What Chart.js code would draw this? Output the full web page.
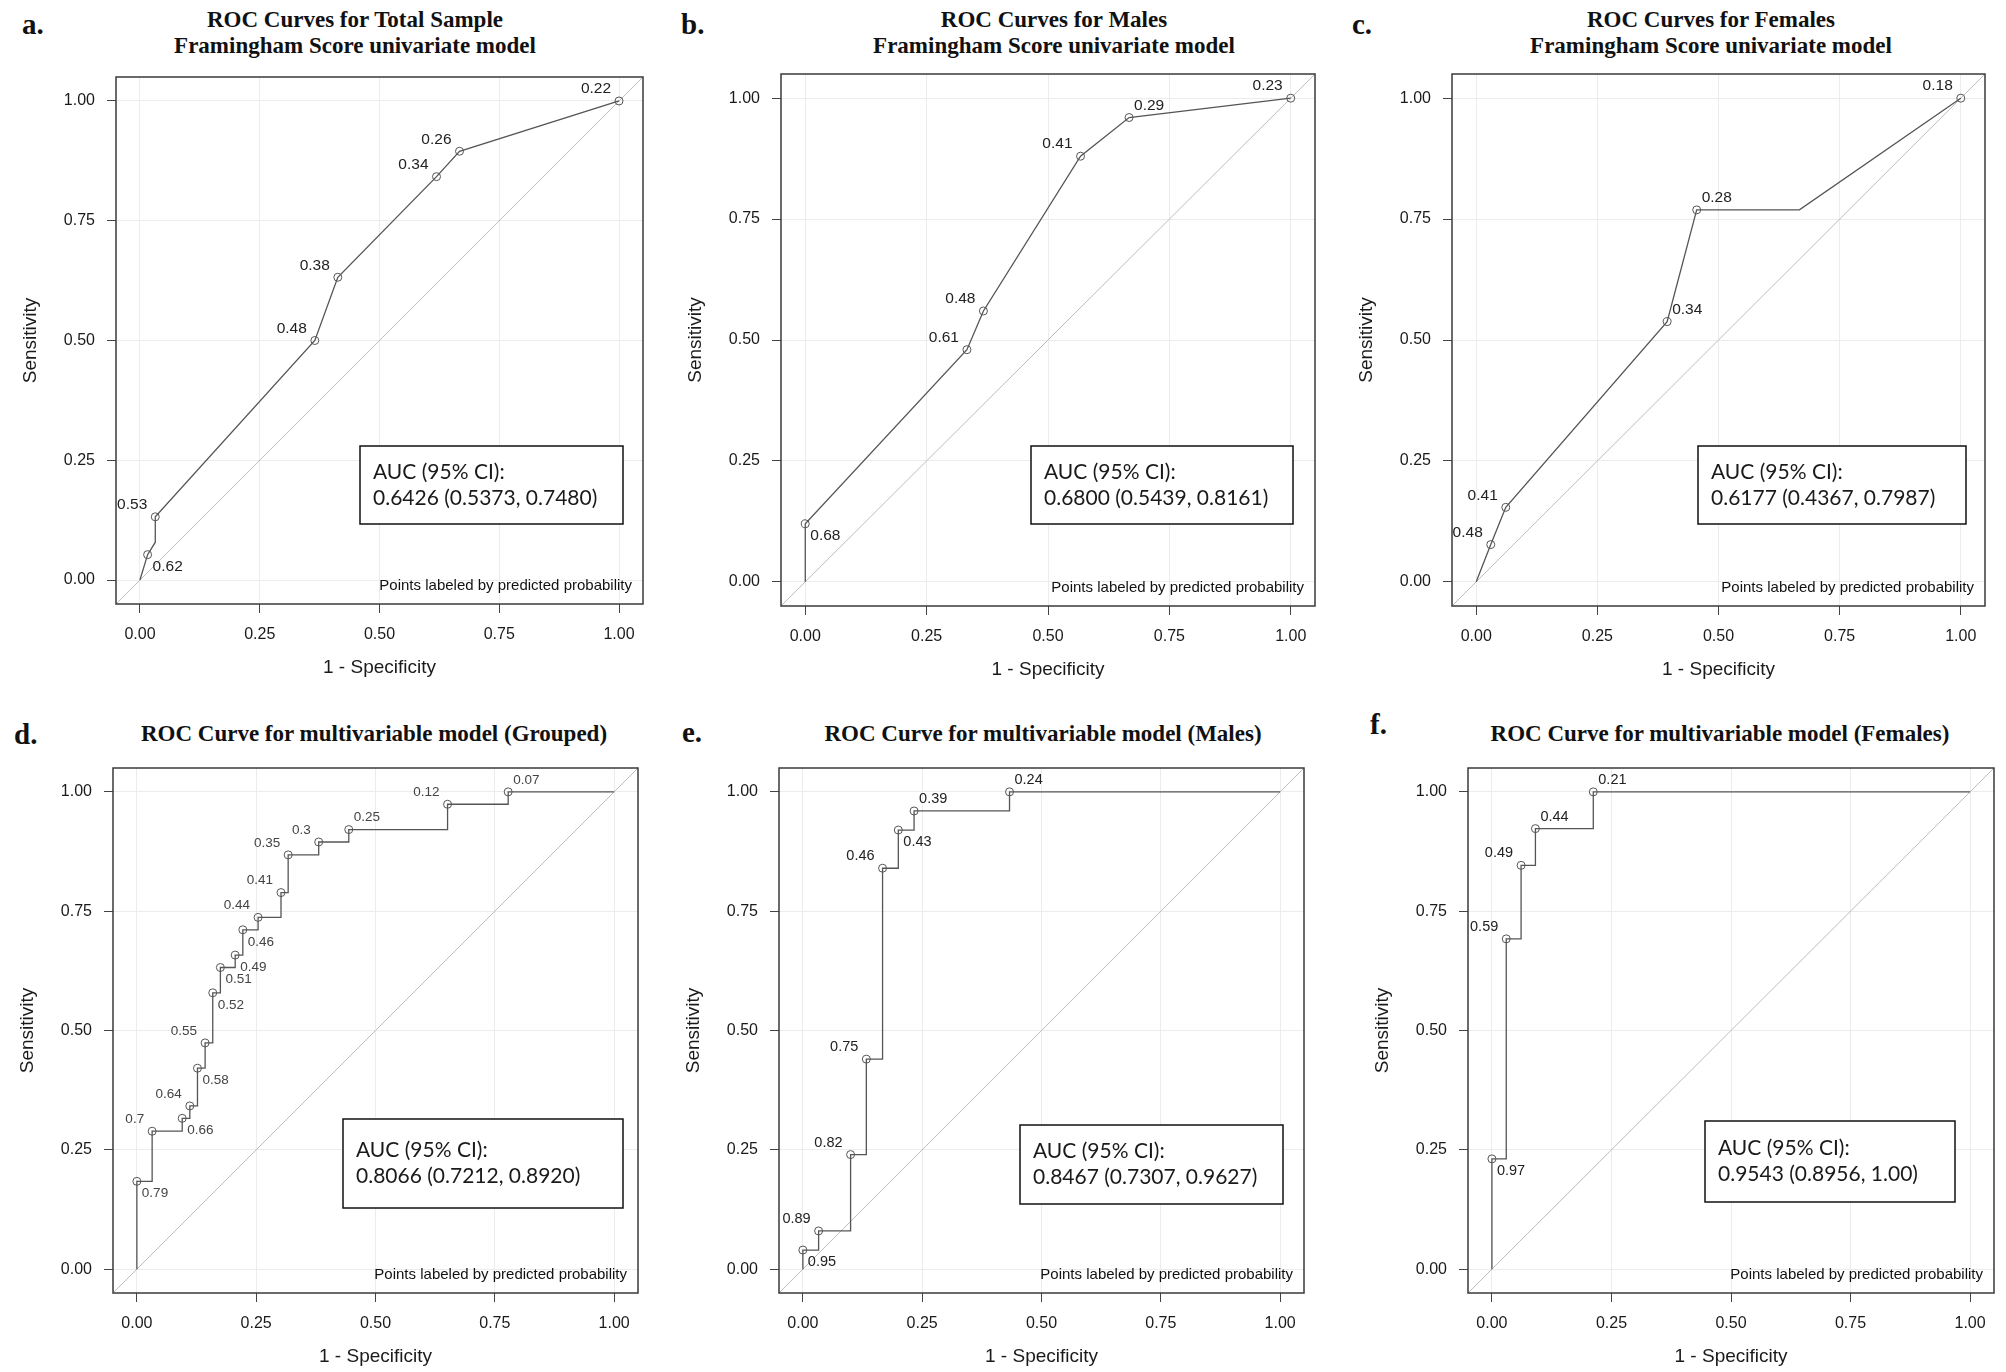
<!DOCTYPE html>
<html>
<head>
<meta charset="utf-8">
<script src="https://cdn.jsdelivr.net/npm/chart.js@4.4.1/dist/chart.umd.min.js"></script>
<style>
  body { margin: 0; background: #fff; }
  #page { position: relative; width: 2006px; height: 1372px; overflow: hidden; background: #fff; }
  #page canvas { position: absolute; }
  .title { position: absolute; width: 700px; text-align: center; font: bold 23px "Liberation Serif", "Times New Roman", serif; line-height: 26.4px; color: #111; white-space: nowrap; }
  .letter { position: absolute; font: bold 29px "Liberation Serif", "Times New Roman", serif; line-height: 28px; color: #111; }
</style>
</head>
<body>
<div id="page"></div>
<script>
// ticks on both axes
const axisTicks = [0, 0.25, 0.5, 0.75, 1];

// a. total sample, univariate
const aFpr = [0, 0.016, 0.032, 0.032, 0.365, 0.413, 0.619, 0.667, 1];
const aTpr = [0, 0.053, 0.079, 0.132, 0.5, 0.632, 0.842, 0.895, 1];
const aLabels = [null, "0.62", null, "0.53", "0.48", "0.38", "0.34", "0.26", "0.22"];

// b. males, univariate
const bFpr = [0, 0, 0.333, 0.367, 0.567, 0.667, 1];
const bTpr = [0, 0.12, 0.48, 0.56, 0.88, 0.96, 1];
const bLabels = [null, "0.68", "0.61", "0.48", "0.41", "0.29", "0.23"];

// c. females, univariate
const cFpr = [0, 0.030, 0.061, 0.394, 0.455, 0.667, 1];
const cTpr = [0, 0.077, 0.154, 0.538, 0.769, 0.769, 1];
const cLabels = [null, "0.48", "0.41", "0.34", "0.28", null, "0.18"];

// d. multivariable, grouped
const dFpr = [0, 0, 0.032, 0.095, 0.111, 0.127, 0.143, 0.159, 0.175, 0.206, 0.222, 0.254, 0.302, 0.317, 0.381, 0.444, 0.651, 0.778, 1];
const dTpr = [0, 0.184, 0.289, 0.316, 0.342, 0.421, 0.474, 0.579, 0.632, 0.658, 0.711, 0.737, 0.789, 0.868, 0.895, 0.921, 0.974, 1, 1];
const dLabels = [null, "0.79", "0.7", "0.66", "0.64", "0.58", "0.55", "0.52", "0.51", "0.49", "0.46", "0.44", "0.41", "0.35", "0.3", "0.25", "0.12", "0.07", null];

// e. multivariable, males
const eFpr = [0, 0, 0.033, 0.1, 0.133, 0.167, 0.2, 0.233, 0.433, 1];
const eTpr = [0, 0.04, 0.08, 0.24, 0.44, 0.84, 0.92, 0.96, 1, 1];
const eLabels = [null, "0.95", "0.89", "0.82", "0.75", "0.46", "0.43", "0.39", "0.24", null];

// f. multivariable, females
const fFpr = [0, 0, 0.030, 0.061, 0.091, 0.212, 1];
const fTpr = [0, 0.231, 0.692, 0.846, 0.923, 1, 1];
const fLabels = [null, "0.97", "0.59", "0.49", "0.44", "0.21", null];

const titles = [
  ["ROC Curves for Total Sample", "Framingham Score univariate model"],
  ["ROC Curves for Males", "Framingham Score univariate model"],
  ["ROC Curves for Females", "Framingham Score univariate model"],
  ["ROC Curve for multivariable model (Grouped)"],
  ["ROC Curve for multivariable model (Males)"],
  ["ROC Curve for multivariable model (Females)"]
];
const aucText = [
  "0.6426 (0.5373, 0.7480)",
  "0.6800 (0.5439, 0.8161)",
  "0.6177 (0.4367, 0.7987)",
  "0.8066 (0.7212, 0.8920)",
  "0.8467 (0.7307, 0.9627)",
  "0.9543 (0.8956, 1.00)"
];
const letters = ["a.", "b.", "c.", "d.", "e.", "f."];

// where each point label sits: ul = up-left, ur = up-right, lr = low-right
const aPlace = [null, "lr", null, "ul", "ul", "ul", "ul", "ul", "ul"];
const bPlace = [null, "lr", "ul", "ul", "ul", "ur", "ul"];
const cPlace = [null, "ul", "ul", "ur", "ur", null, "ul"];
const dPlace = [null, "lr", "ul", "lr", "ul", "lr", "ul", "lr", "lr", "lr", "lr", "ul", "ul", "ul", "ul", "ur", "ul", "ur", null];
const ePlace = [null, "lr", "ul", "ul", "ul", "ul", "lr", "ur", "ur", null];
const fPlace = [null, "lr", "ul", "ul", "ur", "ur", null];

const axisMin = -0.05, axisMax = 1.05;
const sans = '"Liberation Sans", Arial, sans-serif';

// layout: plot box [left, top, width, height], AUC box, letter and title spots
const panels = [
  { fpr: aFpr, tpr: aTpr, labels: aLabels, place: aPlace, stepped: false, box: [116, 76, 528, 528], aucBox: [360, 446, 263, 78], letterAt: [22, 10], titleX: 355, titleTop: 6.6, labelSize: 15.5, labelColor: "#222" },
  { fpr: bFpr, tpr: bTpr, labels: bLabels, place: bPlace, stepped: false, box: [781, 73, 535, 533], aucBox: [1031, 446, 262, 78], letterAt: [681, 10], titleX: 1054, titleTop: 6.6, labelSize: 15.5, labelColor: "#222" },
  { fpr: cFpr, tpr: cTpr, labels: cLabels, place: cPlace, stepped: false, box: [1452, 73, 534, 533], aucBox: [1698, 446, 268, 78], letterAt: [1352, 10], titleX: 1711, titleTop: 6.6, labelSize: 15.5, labelColor: "#222" },
  { fpr: dFpr, tpr: dTpr, labels: dLabels, place: dPlace, stepped: true, box: [113, 768, 525, 525], aucBox: [343, 1119, 280, 89], letterAt: [14, 720], titleX: 374, titleTop: 720.8, labelSize: 13.5, labelColor: "#444" },
  { fpr: eFpr, tpr: eTpr, labels: eLabels, place: ePlace, stepped: true, box: [779, 768, 525, 525], aucBox: [1020, 1125, 263, 79], letterAt: [682, 718], titleX: 1043, titleTop: 720.8, labelSize: 14.5, labelColor: "#222" },
  { fpr: fFpr, tpr: fTpr, labels: fLabels, place: fPlace, stepped: true, box: [1468, 768, 526, 525], aucBox: [1705, 1121, 250, 81], letterAt: [1370, 710], titleX: 1720, titleTop: 720.8, labelSize: 14.5, labelColor: "#222" }
];

const page = document.getElementById("page");

const rocExtras = {
  id: "rocExtras",
  afterDraw(chart, args, opts) {
    const p = opts.panel;
    const ctx = chart.ctx;
    const area = chart.chartArea;
    const offX = p.box[0] - 100, offY = p.box[1] - 4;
    ctx.save();

    // point labels
    const meta = chart.getDatasetMeta(0);
    ctx.font = p.labelSize + "px " + sans;
    ctx.fillStyle = p.labelColor;
    ctx.textBaseline = "middle";
    meta.data.forEach((pt, i) => {
      const t = p.labels[i];
      if (!t) return;
      const where = p.place[i];
      if (where === "ul") {
        ctx.textAlign = "right";
        ctx.fillText(t, pt.x - 8, pt.y - 12);
      } else if (where === "ur") {
        ctx.textAlign = "left";
        ctx.fillText(t, pt.x + 5, pt.y - 12);
      } else {
        ctx.textAlign = "left";
        ctx.fillText(t, pt.x + 5, pt.y + 12);
      }
    });

    // frame
    ctx.strokeStyle = "#3a3a3a";
    ctx.lineWidth = 1.5;
    ctx.strokeRect(area.left, area.top, area.right - area.left, area.bottom - area.top);

    // AUC box
    const bx = p.aucBox[0] - offX, by = p.aucBox[1] - offY, bw = p.aucBox[2], bh = p.aucBox[3];
    ctx.fillStyle = "#fff";
    ctx.fillRect(bx, by, bw, bh);
    ctx.strokeStyle = "#111";
    ctx.lineWidth = 1.5;
    ctx.strokeRect(bx, by, bw, bh);
    ctx.fillStyle = "#1a1a1a";
    ctx.font = '21px Lato, "Open Sans", sans-serif';
    ctx.textAlign = "left";
    ctx.textBaseline = "middle";
    ctx.fillText("AUC (95% CI):", bx + 13, by + bh / 2 - 13);
    ctx.fillText(opts.auc, bx + 13, by + bh / 2 + 13);

    // footnote
    ctx.font = "15px " + sans;
    ctx.textAlign = "right";
    ctx.fillStyle = "#111";
    ctx.fillText("Points labeled by predicted probability", area.right - 11, area.bottom - 18);
    ctx.restore();
  }
};

panels.forEach((p, k) => {
  const [L, T, W, H] = p.box;
  const canvas = document.createElement("canvas");
  canvas.width = W + 104;
  canvas.height = H + 84;
  canvas.style.left = (L - 100) + "px";
  canvas.style.top = (T - 4) + "px";
  canvas.style.width = canvas.width + "px";
  canvas.style.height = canvas.height + "px";
  page.appendChild(canvas);

  const title = document.createElement("div");
  title.className = "title";
  title.style.left = (p.titleX - 350) + "px";
  title.style.top = p.titleTop + "px";
  title.innerHTML = titles[k].join("<br>");
  page.appendChild(title);

  const letter = document.createElement("div");
  letter.className = "letter";
  letter.style.left = p.letterAt[0] + "px";
  letter.style.top = p.letterAt[1] + "px";
  letter.textContent = letters[k];
  page.appendChild(letter);

  const curve = p.fpr.map((x, i) => ({ x: x, y: p.tpr[i] }));

  new Chart(canvas.getContext("2d"), {
    type: "line",
    data: {
      datasets: [
        {
          data: curve,
          borderColor: "#555",
          borderWidth: 1.3,
          stepped: p.stepped,
          tension: 0,
          pointRadius: ctx => (p.labels[ctx.dataIndex] ? 4 : 0),
          pointBorderColor: "#555",
          pointBackgroundColor: "rgba(0,0,0,0)",
          pointBorderWidth: 1,
        },
        {
          data: [{ x: axisMin, y: axisMin }, { x: axisMax, y: axisMax }],
          borderColor: "#bdbdbd",
          borderWidth: 1,
          pointRadius: 0,
        },
      ],
    },
    options: {
      responsive: false,
      animation: false,
      devicePixelRatio: 1,
      layout: { padding: { top: 4, right: 4, left: 0, bottom: 0 } },
      plugins: {
        legend: { display: false },
        tooltip: { enabled: false },
        rocExtras: { panel: p, auc: aucText[k] },
      },
      scales: {
        x: {
          type: "linear",
          min: axisMin,
          max: axisMax,
          afterBuildTicks: s => { s.ticks = axisTicks.map(v => ({ value: v })); },
          afterFit: s => { s.height = 80; s.paddingLeft = 0; s.paddingRight = 0; },
          ticks: { callback: v => v.toFixed(2), font: { family: sans, size: 16 }, color: "#1a1a1a", padding: 12, maxRotation: 0, autoSkip: false },
          grid: { color: "#ececec", tickColor: "#444", tickLength: 9 },
          border: { display: false },
          title: { display: true, text: "1 - Specificity", font: { family: sans, size: 19 }, color: "#1a1a1a", padding: { top: 0, bottom: 5 } },
        },
        y: {
          type: "linear",
          min: axisMin,
          max: axisMax,
          afterBuildTicks: s => { s.ticks = axisTicks.map(v => ({ value: v })); },
          afterFit: s => { s.width = 100; s.paddingTop = 0; s.paddingBottom = 0; },
          ticks: { callback: v => v.toFixed(2), font: { family: sans, size: 16 }, color: "#1a1a1a", padding: 12, autoSkip: false },
          grid: { color: "#ececec", tickColor: "#444", tickLength: 9 },
          border: { display: false },
          title: { display: true, text: "Sensitivity", font: { family: sans, size: 19 }, color: "#1a1a1a", padding: { top: 3, bottom: 0 } },
        },
      },
    },
    plugins: [rocExtras],
  });
});
</script>
</body>
</html>
